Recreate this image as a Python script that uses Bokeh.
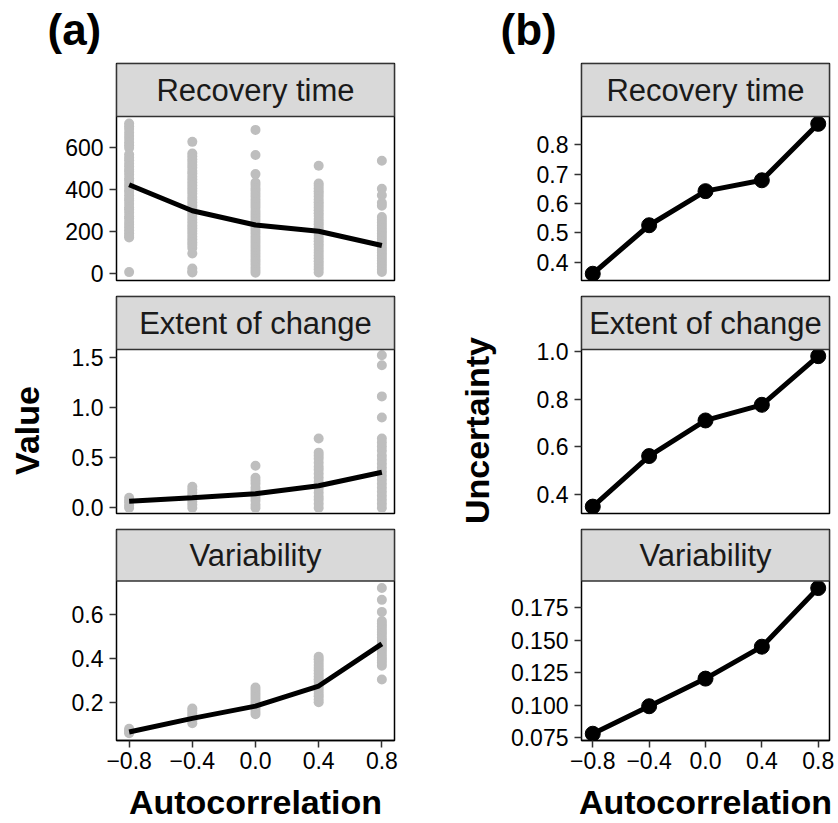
from bokeh.plotting import figure
from bokeh.models import Range1d, FixedTicker, CustomJSTickFormatter, Label
from bokeh.layouts import column, row
from bokeh.embed import file_html
from bokeh.resources import INLINE

FONT = "Liberation Sans"

# autocorrelation levels (x axis)
autocorr = [-0.8, -0.4, 0.0, 0.4, 0.8]
x_tick_labels = ["\u22120.8", "\u22120.4", "0.0", "0.4", "0.8"]

# (a) individual runs per autocorrelation level
recovery_runs = [
    [714, 701, 688, 670, 655, 641, 624, 611, 598, 566, 551, 539, 522, 509, 494, 484, 470, 453, 441, 426, 413, 397, 387, 371, 355, 346, 330, 313, 304, 289, 271, 261, 244, 231, 218, 204, 191, 178, 170, 5],
    [627, 571, 558, 544, 531, 516, 503, 488, 476, 460, 447, 433, 419, 405, 392, 379, 364, 351, 337, 323, 311, 297, 284, 269, 256, 242, 228, 215, 201, 188, 174, 161, 147, 134, 120, 94, 22, 8, 3],
    [684, 564, 473, 433, 421, 406, 393, 379, 366, 352, 338, 325, 312, 297, 284, 271, 257, 243, 229, 216, 203, 189, 175, 162, 149, 135, 121, 108, 95, 81, 67, 54, 41, 27, 14, 2],
    [513, 428, 417, 404, 391, 379, 366, 352, 339, 326, 313, 300, 286, 273, 259, 246, 233, 219, 205, 192, 179, 165, 152, 138, 125, 111, 98, 84, 71, 57, 44, 30, 17, 3],
    [537, 403, 372, 336, 322, 268, 255, 242, 229, 216, 203, 190, 177, 164, 151, 138, 124, 111, 98, 85, 72, 59, 46, 33, 19, 6],
]
extent_runs = [
    [0.00, 0.02, 0.05, 0.07, 0.10],
    [0.00, 0.03, 0.06, 0.09, 0.12, 0.15, 0.18, 0.21],
    [0.00, 0.03, 0.07, 0.10, 0.13, 0.17, 0.20, 0.24, 0.27, 0.30, 0.42],
    [0.00, 0.04, 0.08, 0.11, 0.15, 0.19, 0.23, 0.26, 0.30, 0.34, 0.38, 0.41, 0.45, 0.49, 0.52, 0.55, 0.69],
    [0.00, 0.04, 0.08, 0.12, 0.16, 0.20, 0.24, 0.28, 0.32, 0.36, 0.40, 0.44, 0.48, 0.52, 0.57, 0.61, 0.65, 0.69, 0.90, 1.11, 1.42, 1.52],
]
variability_runs = [
    [0.058, 0.064, 0.071, 0.079],
    [0.104, 0.116, 0.126, 0.138, 0.149, 0.161, 0.171],
    [0.145, 0.157, 0.170, 0.181, 0.194, 0.206, 0.219, 0.232, 0.243, 0.256, 0.267],
    [0.200, 0.213, 0.227, 0.239, 0.253, 0.266, 0.279, 0.293, 0.305, 0.318, 0.331, 0.345, 0.357, 0.370, 0.384, 0.396, 0.408],
    [0.304, 0.367, 0.380, 0.393, 0.405, 0.418, 0.432, 0.444, 0.457, 0.470, 0.483, 0.495, 0.509, 0.521, 0.534, 0.547, 0.559, 0.571, 0.613, 0.668, 0.722],
]

# (a) mean trend per level
recovery_mean = [422, 298, 230, 200, 132]
extent_mean = [0.066, 0.100, 0.140, 0.220, 0.355]
variability_mean = [0.064, 0.126, 0.182, 0.274, 0.467]

# (b) uncertainty per level
recovery_unc = [0.361, 0.526, 0.642, 0.679, 0.871]
extent_unc = [0.347, 0.560, 0.710, 0.776, 0.981]
variability_unc = [0.0782, 0.0993, 0.1205, 0.1450, 0.1900]

facet_names = ["Recovery time", "Extent of change", "Variability"]

# y ticks and their labels for each facet
a_yticks = [[0, 200, 400, 600], [0.0, 0.5, 1.0, 1.5], [0.2, 0.4, 0.6]]
a_ylabels = [["0", "200", "400", "600"], ["0.0", "0.5", "1.0", "1.5"], ["0.2", "0.4", "0.6"]]
b_yticks = [[0.4, 0.5, 0.6, 0.7, 0.8], [0.4, 0.6, 0.8, 1.0], [0.075, 0.100, 0.125, 0.150, 0.175]]
b_ylabels = [["0.4", "0.5", "0.6", "0.7", "0.8"], ["0.4", "0.6", "0.8", "1.0"],
             ["0.075", "0.100", "0.125", "0.150", "0.175"]]

a_yranges = [(-35, 748), (-0.056, 1.577), (0.025, 0.754)]
b_yranges = [(0.338, 0.896), (0.318, 1.009), (0.073, 0.1954)]

X_RANGE = (-0.88, 0.88)
HEADER_H = 62
STRIP_H = 53      # facet strip, sits on top of each panel inside the same frame
PANEL_H = 164
TOP_PAD = 1
GAP = 15
BOTTOM = 77
BODY_H = 3 * (TOP_PAD + STRIP_H + PANEL_H) + 2 * GAP + BOTTOM

TICK_FONT = "23px"
STRIP_FONT = "31px"
TITLE_FONT = "34px"


def tick_formatter(values, labels):
    return CustomJSTickFormatter(
        args=dict(tvals=values, tlabels=labels),
        code="""
        for (let i = 0; i < tvals.length; i++) {
            if (Math.abs(tvals[i] - tick) < 1e-9) return tlabels[i];
        }
        return '';
        """,
    )


def blank(width, height):
    p = figure(width=width, height=height, title=None,
               x_range=Range1d(0, width), y_range=Range1d(0, height),
               min_border=0, x_axis_location=None, y_axis_location=None,
               toolbar_location=None, output_backend="svg")
    p.grid.visible = False
    p.outline_line_color = None
    return p


def side_title(text, width):
    # rotated y title, centred on the middle facet
    p = blank(width, BODY_H)
    p.add_layout(Label(x=26, y=BODY_H - 368, text=text, angle=90, angle_units="deg",
                       text_align="center", text_baseline="middle",
                       text_font=FONT, text_font_size=TITLE_FONT,
                       text_font_style="bold", text_color="black"))
    return p


def facet(title, left, frame_w, right, yr, yticks, ylabels, last):
    bottom = BOTTOM if last else GAP
    lo, hi = yr
    # extend the range upwards so the strip band occupies STRIP_H pixels above the panel
    hi_ext = hi + (hi - lo) * STRIP_H / PANEL_H
    p = figure(width=left + frame_w + right, height=TOP_PAD + STRIP_H + PANEL_H + bottom,
               title=None,
               x_range=Range1d(*X_RANGE), y_range=Range1d(lo, hi_ext),
               min_border_left=left, min_border_right=right,
               min_border_top=TOP_PAD, min_border_bottom=bottom,
               x_axis_location="below" if last else None,
               toolbar_location=None, output_backend="svg")
    p.grid.visible = False
    p.background_fill_color = "white"
    p.border_fill_color = "white"
    p.outline_line_color = "black"
    p.outline_line_width = 1.5

    axes = [p.yaxis[0]] + ([p.xaxis[0]] if last else [])
    for ax in axes:
        ax.axis_line_color = "black"
        ax.axis_line_width = 1.5
        ax.major_tick_line_color = "#333333"
        ax.major_tick_line_width = 1.5
        ax.major_tick_in = 0
        ax.major_tick_out = 7
        ax.minor_tick_line_color = None
        ax.major_label_text_font = FONT
        ax.major_label_text_font_size = TICK_FONT
        ax.major_label_text_color = "black"
        ax.axis_label_text_font = FONT
        ax.axis_label_text_font_size = TITLE_FONT
        ax.axis_label_text_font_style = "bold"
        ax.axis_label_text_color = "black"
    p.yaxis.axis_line_color = None

    p.yaxis.ticker = FixedTicker(ticks=yticks)
    p.yaxis.formatter = tick_formatter(yticks, ylabels)
    p.yaxis.major_label_standoff = 6

    if last:
        p.xaxis.ticker = FixedTicker(ticks=autocorr)
        p.xaxis.formatter = tick_formatter(autocorr, x_tick_labels)
        p.xaxis.major_label_standoff = 4
        p.xaxis.axis_label = "Autocorrelation"
        p.xaxis.axis_label_standoff = 11
    return p, hi, hi_ext


def add_strip(p, title, hi, hi_ext):
    p.quad(left=X_RANGE[0], right=X_RANGE[1], bottom=hi, top=hi_ext,
           fill_color="#d9d9d9", line_color="#333333", line_width=1.5)
    p.add_layout(Label(x=0.0, y=(hi + hi_ext) / 2, text=title, text_align="center",
                       text_baseline="middle", text_font=FONT,
                       text_font_size=STRIP_FONT, text_color="#1a1a1a"))


# ---- header with panel tags ----
header = blank(838, HEADER_H)
for tag, tx in (("(a)", 47), ("(b)", 500)):
    header.add_layout(Label(x=tx, y=HEADER_H - 29, text=tag, text_font=FONT,
                            text_font_size="44px", text_font_style="bold",
                            text_color="black", text_baseline="middle"))

# ---- column (a): raw runs with mean trend ----
A_TITLE_W = 50
A_LEFT, A_W, A_RIGHT = 66, 278, 56
a_children = []
for i, (runs, mean) in enumerate(zip([recovery_runs, extent_runs, variability_runs],
                                     [recovery_mean, extent_mean, variability_mean])):
    p, hi, hi_ext = facet(facet_names[i], A_LEFT, A_W, A_RIGHT, a_yranges[i],
                          a_yticks[i], a_ylabels[i], last=(i == 2))
    xs = [x for x, vals in zip(autocorr, runs) for _ in vals]
    ys = [v for vals in runs for v in vals]
    p.scatter(xs, ys, size=10, color="#bebebe", line_color=None)
    p.line(autocorr, mean, line_width=5, color="black")
    add_strip(p, facet_names[i], hi, hi_ext)
    a_children.append(p)

# ---- column (b): uncertainty ----
B_TITLE_W = 57
B_LEFT, B_W, B_RIGHT = 70, 252, 9
b_children = []
for i, unc in enumerate([recovery_unc, extent_unc, variability_unc]):
    p, hi, hi_ext = facet(facet_names[i], B_LEFT, B_W, B_RIGHT, b_yranges[i],
                          b_yticks[i], b_ylabels[i], last=(i == 2))
    p.line(autocorr, unc, line_width=5, color="black")
    p.scatter(autocorr, unc, size=15, color="black")
    add_strip(p, facet_names[i], hi, hi_ext)
    b_children.append(p)

body = row(side_title("Value", A_TITLE_W), column(*a_children),
           side_title("Uncertainty", B_TITLE_W), column(*b_children))
layout = column(header, body)

open("out.html", "w").write(file_html(layout, INLINE))
